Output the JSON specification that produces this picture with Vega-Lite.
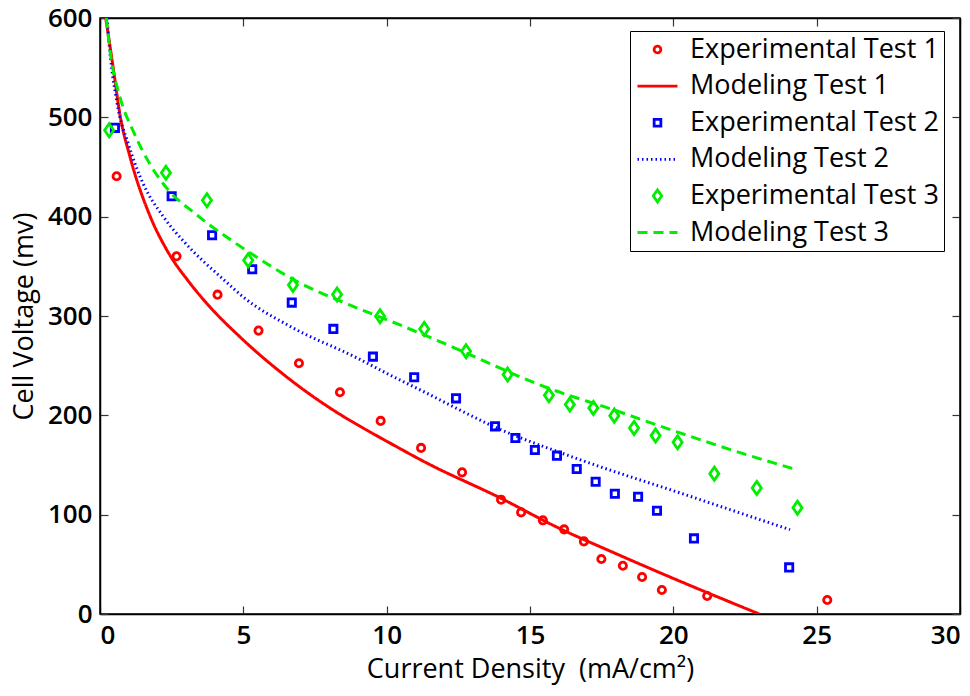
{
  "$schema": "https://vega.github.io/schema/vega-lite/v6.json",
  "width": 860,
  "height": 596,
  "autosize": {"type": "none"},
  "padding": {"left": 100, "top": 18, "right": 10, "bottom": 82},
  "background": "white",
  "datasets": {
    "exp": [
      {"series": "Experimental Test 1", "x": 0.58, "y": 440.7},
      {"series": "Experimental Test 1", "x": 2.67, "y": 360.1},
      {"series": "Experimental Test 1", "x": 4.10, "y": 321.5},
      {"series": "Experimental Test 1", "x": 5.53, "y": 285.3},
      {"series": "Experimental Test 1", "x": 6.94, "y": 252.4},
      {"series": "Experimental Test 1", "x": 8.37, "y": 223.2},
      {"series": "Experimental Test 1", "x": 9.79, "y": 194.4},
      {"series": "Experimental Test 1", "x": 11.20, "y": 167.2},
      {"series": "Experimental Test 1", "x": 12.63, "y": 142.6},
      {"series": "Experimental Test 1", "x": 13.99, "y": 115.1},
      {"series": "Experimental Test 1", "x": 14.69, "y": 102.3},
      {"series": "Experimental Test 1", "x": 15.45, "y": 94.3},
      {"series": "Experimental Test 1", "x": 16.19, "y": 85.2},
      {"series": "Experimental Test 1", "x": 16.88, "y": 73.1},
      {"series": "Experimental Test 1", "x": 17.49, "y": 55.4},
      {"series": "Experimental Test 1", "x": 18.24, "y": 48.6},
      {"series": "Experimental Test 1", "x": 18.91, "y": 37.3},
      {"series": "Experimental Test 1", "x": 19.60, "y": 24.2},
      {"series": "Experimental Test 1", "x": 21.18, "y": 18.1},
      {"series": "Experimental Test 1", "x": 25.37, "y": 14.1},
      {"series": "Experimental Test 2", "x": 0.52, "y": 489.4},
      {"series": "Experimental Test 2", "x": 2.50, "y": 420.5},
      {"series": "Experimental Test 2", "x": 3.91, "y": 381.3},
      {"series": "Experimental Test 2", "x": 5.31, "y": 347.0},
      {"series": "Experimental Test 2", "x": 6.69, "y": 313.5},
      {"series": "Experimental Test 2", "x": 8.14, "y": 287.0},
      {"series": "Experimental Test 2", "x": 9.52, "y": 259.1},
      {"series": "Experimental Test 2", "x": 10.96, "y": 238.3},
      {"series": "Experimental Test 2", "x": 12.42, "y": 217.1},
      {"series": "Experimental Test 2", "x": 13.78, "y": 188.9},
      {"series": "Experimental Test 2", "x": 14.49, "y": 177.2},
      {"series": "Experimental Test 2", "x": 15.17, "y": 165.1},
      {"series": "Experimental Test 2", "x": 15.94, "y": 159.4},
      {"series": "Experimental Test 2", "x": 16.63, "y": 146.0},
      {"series": "Experimental Test 2", "x": 17.29, "y": 133.2},
      {"series": "Experimental Test 2", "x": 17.96, "y": 121.1},
      {"series": "Experimental Test 2", "x": 18.77, "y": 118.1},
      {"series": "Experimental Test 2", "x": 19.43, "y": 104.0},
      {"series": "Experimental Test 2", "x": 20.72, "y": 76.1},
      {"series": "Experimental Test 2", "x": 24.04, "y": 46.9},
      {"series": "Experimental Test 3", "x": 0.32, "y": 487.0},
      {"series": "Experimental Test 3", "x": 2.30, "y": 444.1},
      {"series": "Experimental Test 3", "x": 3.73, "y": 416.5},
      {"series": "Experimental Test 3", "x": 5.17, "y": 356.1},
      {"series": "Experimental Test 3", "x": 6.73, "y": 331.3},
      {"series": "Experimental Test 3", "x": 8.27, "y": 321.6},
      {"series": "Experimental Test 3", "x": 9.77, "y": 299.7},
      {"series": "Experimental Test 3", "x": 11.31, "y": 287.0},
      {"series": "Experimental Test 3", "x": 12.77, "y": 264.5},
      {"series": "Experimental Test 3", "x": 14.22, "y": 241.0},
      {"series": "Experimental Test 3", "x": 15.66, "y": 220.1},
      {"series": "Experimental Test 3", "x": 16.39, "y": 210.8},
      {"series": "Experimental Test 3", "x": 17.21, "y": 207.5},
      {"series": "Experimental Test 3", "x": 17.94, "y": 199.7},
      {"series": "Experimental Test 3", "x": 18.63, "y": 187.3},
      {"series": "Experimental Test 3", "x": 19.38, "y": 179.6},
      {"series": "Experimental Test 3", "x": 20.15, "y": 172.8},
      {"series": "Experimental Test 3", "x": 21.43, "y": 141.3},
      {"series": "Experimental Test 3", "x": 22.91, "y": 126.9},
      {"series": "Experimental Test 3", "x": 24.33, "y": 107.0}
    ],
    "model": [
      {"series": "Modeling Test 1", "x": 0.2, "y": 600},
      {"series": "Modeling Test 1", "x": 0.46, "y": 550},
      {"series": "Modeling Test 1", "x": 0.70, "y": 502},
      {"series": "Modeling Test 1", "x": 1.05, "y": 460},
      {"series": "Modeling Test 1", "x": 1.74, "y": 401},
      {"series": "Modeling Test 1", "x": 2.32, "y": 367},
      {"series": "Modeling Test 1", "x": 3.14, "y": 333},
      {"series": "Modeling Test 1", "x": 3.84, "y": 309},
      {"series": "Modeling Test 1", "x": 4.88, "y": 279},
      {"series": "Modeling Test 1", "x": 6.63, "y": 236},
      {"series": "Modeling Test 1", "x": 8.37, "y": 201},
      {"series": "Modeling Test 1", "x": 9.07, "y": 189},
      {"series": "Modeling Test 1", "x": 10.12, "y": 172},
      {"series": "Modeling Test 1", "x": 11.40, "y": 152},
      {"series": "Modeling Test 1", "x": 13.95, "y": 117},
      {"series": "Modeling Test 1", "x": 16.04, "y": 86},
      {"series": "Modeling Test 1", "x": 17.9, "y": 62},
      {"series": "Modeling Test 1", "x": 20.23, "y": 33},
      {"series": "Modeling Test 1", "x": 23.0, "y": 0},
      {"series": "Modeling Test 2", "x": 0.25, "y": 600},
      {"series": "Modeling Test 2", "x": 0.29, "y": 584},
      {"series": "Modeling Test 2", "x": 0.58, "y": 517},
      {"series": "Modeling Test 2", "x": 0.99, "y": 473},
      {"series": "Modeling Test 2", "x": 1.51, "y": 433},
      {"series": "Modeling Test 2", "x": 2.21, "y": 400},
      {"series": "Modeling Test 2", "x": 3.02, "y": 372},
      {"series": "Modeling Test 2", "x": 4.30, "y": 337},
      {"series": "Modeling Test 2", "x": 5.0, "y": 319},
      {"series": "Modeling Test 2", "x": 6.63, "y": 289.6},
      {"series": "Modeling Test 2", "x": 8.95, "y": 258},
      {"series": "Modeling Test 2", "x": 10.12, "y": 240.5},
      {"series": "Modeling Test 2", "x": 11.27, "y": 224.2},
      {"series": "Modeling Test 2", "x": 12.44, "y": 207},
      {"series": "Modeling Test 2", "x": 13.49, "y": 192},
      {"series": "Modeling Test 2", "x": 16.74, "y": 155.4},
      {"series": "Modeling Test 2", "x": 20.23, "y": 121.9},
      {"series": "Modeling Test 2", "x": 24.07, "y": 84.9},
      {"series": "Modeling Test 3", "x": 0.22, "y": 600},
      {"series": "Modeling Test 3", "x": 0.35, "y": 567},
      {"series": "Modeling Test 3", "x": 0.70, "y": 520},
      {"series": "Modeling Test 3", "x": 1.16, "y": 486},
      {"series": "Modeling Test 3", "x": 1.74, "y": 453},
      {"series": "Modeling Test 3", "x": 2.32, "y": 429},
      {"series": "Modeling Test 3", "x": 3.37, "y": 402},
      {"series": "Modeling Test 3", "x": 5.11, "y": 366},
      {"series": "Modeling Test 3", "x": 6.86, "y": 335},
      {"series": "Modeling Test 3", "x": 8.72, "y": 311},
      {"series": "Modeling Test 3", "x": 10.12, "y": 295},
      {"series": "Modeling Test 3", "x": 12.44, "y": 267},
      {"series": "Modeling Test 3", "x": 13.6, "y": 252},
      {"series": "Modeling Test 3", "x": 15.58, "y": 228},
      {"series": "Modeling Test 3", "x": 17.9, "y": 205.7},
      {"series": "Modeling Test 3", "x": 20.23, "y": 182.3},
      {"series": "Modeling Test 3", "x": 22.55, "y": 160.4},
      {"series": "Modeling Test 3", "x": 24.3, "y": 145.3}
    ]
  },
  "layer": [
    {
      "data": {"name": "exp"},
      "mark": {"type": "point", "filled": false, "size": 53, "strokeWidth": 2.8, "opacity": 1},
      "encoding": {
        "x": {"field": "x", "type": "quantitative", "scale": {"domain": [0, 30], "nice": false},
              "axis": {"orient": "bottom", "title": "Current Density\u00a0 (mA/cm\u00b2)", "values": [0,5,10,15,20,25,30]}},
        "y": {"field": "y", "type": "quantitative", "scale": {"domain": [0, 600], "nice": false},
              "axis": {"orient": "left", "title": "Cell Voltage (mv)", "values": [0,100,200,300,400,500,600]}},
        "color": {"field": "series", "type": "nominal",
          "scale": {"domain": ["Experimental Test 1", "Modeling Test 1", "Experimental Test 2", "Modeling Test 2", "Experimental Test 3", "Modeling Test 3"],
                    "range": ["#ff0000", "#ff0000", "#0000ff", "#0000ff", "#00ee00", "#00ee00"]},
          "legend": {"orient": "none", "legendX": 530, "legendY": 13, "title": null,
                     "labelExpr": "datum.label + '\u00a0\u00a0\u00a0\u00a0'",
                     "encode": {"symbols": {"update": {"size": {"signal": "test(/^Modeling/, datum.value) ? 1600 : 45"}}}}}},
        "shape": {"field": "series", "type": "nominal",
          "scale": {"domain": ["Experimental Test 1", "Modeling Test 1", "Experimental Test 2", "Modeling Test 2", "Experimental Test 3", "Modeling Test 3"],
                    "range": ["circle", "stroke", "square", "stroke", "M0,-1.8L1.25,0L0,1.8L-1.25,0Z", "stroke"]},
          "legend": {"orient": "none", "legendX": 530, "legendY": 13, "title": null,
                     "labelExpr": "datum.label + '\u00a0\u00a0\u00a0\u00a0'",
                     "encode": {"symbols": {"update": {"size": {"signal": "test(/^Modeling/, datum.value) ? 1600 : 45"}}}}}}
      }
    },
    {
      "data": {"name": "model"},
      "mark": {"type": "line", "strokeWidth": 3, "clip": true, "interpolate": "monotone"},
      "encoding": {
        "x": {"field": "x", "type": "quantitative",
              "axis": {"orient": "top", "labels": false, "title": null, "values": [0,5,10,15,20,25,30]}},
        "y": {"field": "y", "type": "quantitative",
              "axis": {"orient": "right", "labels": false, "title": null, "values": [0,100,200,300,400,500,600]}},
        "color": {"field": "series", "type": "nominal",
          "legend": {"orient": "none", "legendX": 530, "legendY": 13, "title": null,
                     "labelExpr": "datum.label + '\u00a0\u00a0\u00a0\u00a0'",
                     "encode": {"symbols": {"update": {"size": {"signal": "test(/^Modeling/, datum.value) ? 1600 : 45"}}}}}},
        "strokeDash": {"field": "series", "type": "nominal",
          "scale": {"domain": ["Experimental Test 1", "Modeling Test 1", "Experimental Test 2", "Modeling Test 2", "Experimental Test 3", "Modeling Test 3"],
                    "range": [[1, 0], [1, 0], [1, 0], [1.5, 3], [1, 0], [10, 6]]},
          "legend": {"orient": "none", "legendX": 530, "legendY": 13, "title": null,
                     "labelExpr": "datum.label + '\u00a0\u00a0\u00a0\u00a0'",
                     "encode": {"symbols": {"update": {"size": {"signal": "test(/^Modeling/, datum.value) ? 1600 : 45"}}}}}}
      }
    }
  ],
  "resolve": {"axis": {"x": "independent", "y": "independent"}},
  "config": {
    "view": {"stroke": "black", "strokeWidth": 1.5},
    "font": "Open Sans",
    "axis": {
      "grid": false,
      "domainColor": "black",
      "domainWidth": 1.5,
      "tickColor": "#333",
      "tickWidth": 1.2,
      "tickSize": -8,
      "labelPadding": 16,
      "labelFont": "Open Sans",
      "labelFontSize": 26,
      "labelFontWeight": 600,
      "labelColor": "black",
      "titleFont": "Open Sans",
      "titleFontSize": 27,
      "titleFontWeight": "normal",
      "titleColor": "black"
    },
    "axisY": {"titlePadding": 9},
    "axisX": {"titlePadding": 8},
    "legend": {
      "strokeColor": "black",
      "fillColor": "white",
      "padding": 5,
      "labelFont": "Open Sans",
      "labelFontSize": 27,
      "labelFontWeight": 500,
      "labelColor": "black",
      "labelOffset": 19,
      "symbolOffset": 9,
      "labelLimit": 400,
      "symbolSize": 1600,
      "symbolStrokeWidth": 2.8,
      "rowPadding": 8.6,
      "symbolOpacity": 1
    }
  }
}
